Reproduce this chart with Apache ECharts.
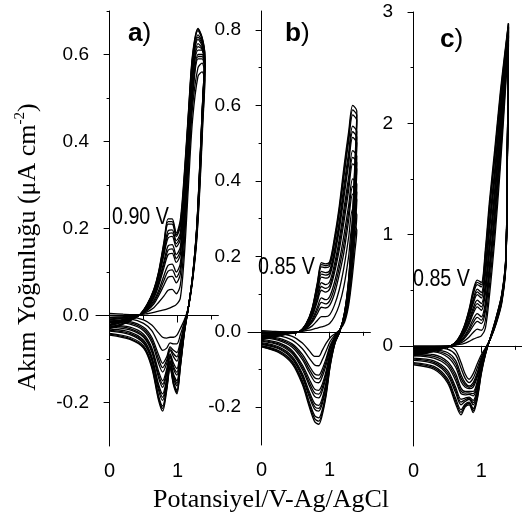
<!DOCTYPE html>
<html><head><meta charset="utf-8">
<script src="https://cdn.jsdelivr.net/npm/echarts@6/dist/echarts.min.js"></script>
<style>html,body{margin:0;padding:0;background:#fff}#c{width:522px;height:521px}</style>
</head><body><div id="c"></div>
<script>
// ---------- Panel a ----------
const aPotFwd = [0, 0.2, 0.35, 0.45, 0.55, 0.65, 0.72, 0.8, 0.86, 0.92, 0.98, 1.04, 1.1, 1.16, 1.22, 1.3, 1.36, 1.4];
const aPotRev = [1.37, 1.33, 1.28, 1.22, 1.16, 1.1, 1.04, 0.99, 0.94, 0.89, 0.84, 0.78, 0.72, 0.62, 0.5, 0.3, 0];
const aFwd = [
 [0.005,0.003,0.002,0.002,0.004,0.007,0.01,0.013,0.016,0.02,0.025,0.04,0.14,0.3,0.45,0.55,0.56,0.54],
 [0.0,0.0,0.0,0.002,0.008,0.018,0.03,0.045,0.058,0.06,0.05,0.07,0.17,0.33,0.48,0.57,0.58,0.55],
 [-0.005,-0.003,-0.001,0.002,0.011,0.026,0.045,0.07,0.088,0.09,0.075,0.095,0.2,0.36,0.5,0.59,0.59,0.56],
 [-0.008,-0.005,-0.002,0.002,0.013,0.03,0.051,0.081,0.102,0.105,0.088,0.108,0.21,0.37,0.51,0.595,0.595,0.565],
 [-0.01,-0.006,-0.002,0.002,0.014,0.034,0.057,0.092,0.115,0.118,0.1,0.12,0.22,0.38,0.52,0.6,0.6,0.57],
 [-0.013,-0.009,-0.003,0.002,0.016,0.04,0.068,0.11,0.14,0.143,0.122,0.14,0.24,0.4,0.54,0.61,0.61,0.575],
 [-0.015,-0.01,-0.0035,0.002,0.017,0.043,0.073,0.118,0.15,0.153,0.131,0.149,0.25,0.41,0.548,0.618,0.612,0.578],
 [-0.016,-0.011,-0.004,0.002,0.018,0.045,0.077,0.125,0.16,0.163,0.14,0.158,0.26,0.42,0.555,0.625,0.615,0.58],
 [-0.02,-0.013,-0.005,0.002,0.02,0.05,0.085,0.14,0.178,0.182,0.158,0.175,0.28,0.435,0.57,0.635,0.62,0.585],
 [-0.021,-0.014,-0.0055,0.002,0.021,0.052,0.088,0.146,0.187,0.19,0.165,0.183,0.29,0.443,0.575,0.64,0.625,0.588],
 [-0.023,-0.015,-0.006,0.002,0.022,0.054,0.091,0.152,0.195,0.197,0.172,0.19,0.3,0.45,0.58,0.645,0.63,0.59],
 [-0.027,-0.018,-0.007,0.002,0.024,0.057,0.096,0.162,0.21,0.21,0.182,0.205,0.315,0.46,0.59,0.655,0.635,0.595],
 [-0.028,-0.019,-0.0075,0.0025,0.0245,0.0585,0.098,0.166,0.216,0.216,0.186,0.212,0.322,0.465,0.595,0.658,0.638,0.598],
 [-0.03,-0.02,-0.008,0.003,0.025,0.06,0.1,0.17,0.222,0.222,0.19,0.22,0.33,0.47,0.6,0.66,0.64,0.6]
];
const aRev = [
 [0.44,0.3,0.17,0.08,0.02,-0.01,-0.03,-0.045,-0.05,-0.05,-0.052,-0.05,-0.04,-0.022,-0.01,-0.003,0.0],
 [0.45,0.31,0.175,0.082,0.02,-0.015,-0.045,-0.065,-0.065,-0.063,-0.075,-0.08,-0.065,-0.035,-0.018,-0.008,-0.005],
 [0.46,0.32,0.18,0.084,0.02,-0.02,-0.06,-0.085,-0.08,-0.072,-0.095,-0.11,-0.09,-0.05,-0.027,-0.014,-0.01],
 [0.465,0.325,0.183,0.0845,0.02,-0.022,-0.066,-0.095,-0.088,-0.076,-0.103,-0.12,-0.1,-0.056,-0.031,-0.017,-0.013],
 [0.47,0.33,0.185,0.085,0.02,-0.024,-0.072,-0.105,-0.095,-0.08,-0.11,-0.13,-0.11,-0.062,-0.035,-0.02,-0.016],
 [0.48,0.335,0.188,0.086,0.02,-0.028,-0.083,-0.122,-0.11,-0.088,-0.123,-0.15,-0.128,-0.074,-0.043,-0.027,-0.021],
 [0.483,0.338,0.189,0.0865,0.02,-0.03,-0.088,-0.13,-0.117,-0.092,-0.129,-0.158,-0.136,-0.079,-0.047,-0.03,-0.024],
 [0.485,0.34,0.19,0.087,0.02,-0.031,-0.093,-0.137,-0.123,-0.096,-0.135,-0.165,-0.143,-0.084,-0.05,-0.033,-0.026],
 [0.49,0.345,0.193,0.088,0.02,-0.034,-0.102,-0.15,-0.135,-0.103,-0.146,-0.18,-0.158,-0.094,-0.057,-0.038,-0.031],
 [0.492,0.348,0.194,0.0885,0.02,-0.035,-0.106,-0.156,-0.14,-0.106,-0.151,-0.188,-0.165,-0.099,-0.061,-0.041,-0.034],
 [0.493,0.35,0.195,0.089,0.02,-0.036,-0.109,-0.162,-0.145,-0.109,-0.156,-0.195,-0.172,-0.103,-0.064,-0.044,-0.036],
 [0.497,0.355,0.198,0.09,0.02,-0.038,-0.115,-0.172,-0.153,-0.115,-0.164,-0.208,-0.184,-0.112,-0.07,-0.05,-0.041],
 [0.499,0.358,0.199,0.09,0.02,-0.039,-0.118,-0.176,-0.157,-0.118,-0.168,-0.214,-0.19,-0.116,-0.073,-0.053,-0.043],
 [0.5,0.36,0.2,0.09,0.02,-0.04,-0.12,-0.18,-0.16,-0.12,-0.172,-0.22,-0.195,-0.12,-0.075,-0.055,-0.045]
];
// ---------- Panel b ----------
const bPotFwd = [0, 0.2, 0.4, 0.55, 0.65, 0.74, 0.82, 0.88, 0.94, 1.0, 1.07, 1.14, 1.21, 1.28, 1.34, 1.4];
const bPotRev = [1.37, 1.33, 1.28, 1.22, 1.15, 1.08, 1.01, 0.95, 0.89, 0.84, 0.78, 0.7, 0.6, 0.45, 0.25, 0];
const bFwd = [
 [0.003,0.001,0.0,0.0,0.003,0.006,0.01,0.013,0.016,0.022,0.04,0.07,0.12,0.2,0.285,0.27],
 [0.0,-0.001,-0.001,0.0,0.006,0.015,0.03,0.04,0.04,0.045,0.07,0.11,0.17,0.25,0.325,0.31],
 [-0.003,-0.003,-0.002,0.0,0.008,0.024,0.048,0.065,0.063,0.07,0.1,0.15,0.21,0.295,0.365,0.35],
 [-0.005,-0.004,-0.0025,0.0,0.009,0.028,0.057,0.078,0.074,0.082,0.115,0.168,0.232,0.315,0.385,0.37],
 [-0.006,-0.005,-0.003,0.0,0.01,0.032,0.065,0.09,0.085,0.093,0.13,0.185,0.255,0.335,0.405,0.39],
 [-0.009,-0.007,-0.003,0.0,0.012,0.039,0.08,0.11,0.105,0.113,0.155,0.215,0.29,0.375,0.445,0.43],
 [-0.01,-0.0075,-0.0035,0.0,0.013,0.042,0.087,0.12,0.115,0.122,0.166,0.229,0.308,0.392,0.462,0.448],
 [-0.011,-0.008,-0.004,0.0,0.014,0.045,0.093,0.13,0.125,0.132,0.178,0.243,0.325,0.41,0.48,0.465],
 [-0.013,-0.009,-0.004,0.0,0.016,0.05,0.105,0.145,0.142,0.148,0.198,0.268,0.355,0.445,0.515,0.5],
 [-0.014,-0.0095,-0.004,0.0,0.0165,0.052,0.11,0.153,0.15,0.155,0.207,0.279,0.37,0.46,0.53,0.515],
 [-0.015,-0.01,-0.004,0.0,0.017,0.054,0.115,0.16,0.157,0.162,0.215,0.29,0.385,0.475,0.545,0.53],
 [-0.018,-0.012,-0.005,0.0,0.019,0.057,0.123,0.172,0.17,0.174,0.232,0.312,0.41,0.505,0.575,0.56],
 [-0.019,-0.0125,-0.005,0.0,0.0195,0.0585,0.127,0.178,0.175,0.18,0.24,0.321,0.422,0.518,0.588,0.573],
 [-0.02,-0.013,-0.005,0.0,0.02,0.06,0.13,0.183,0.18,0.185,0.248,0.33,0.435,0.53,0.6,0.585]
];
const bRev = [
 [0.21,0.14,0.07,0.025,0.005,-0.005,-0.015,-0.03,-0.05,-0.065,-0.065,-0.05,-0.03,-0.012,-0.004,0.0],
 [0.24,0.16,0.08,0.03,0.005,-0.008,-0.025,-0.05,-0.075,-0.09,-0.088,-0.07,-0.045,-0.022,-0.01,-0.005],
 [0.27,0.175,0.09,0.034,0.005,-0.012,-0.035,-0.07,-0.1,-0.115,-0.112,-0.09,-0.06,-0.032,-0.017,-0.01],
 [0.285,0.183,0.095,0.036,0.005,-0.0135,-0.04,-0.078,-0.11,-0.125,-0.122,-0.099,-0.067,-0.036,-0.02,-0.0125],
 [0.3,0.19,0.1,0.038,0.005,-0.015,-0.044,-0.087,-0.12,-0.135,-0.132,-0.108,-0.074,-0.041,-0.023,-0.015],
 [0.33,0.205,0.108,0.041,0.004,-0.018,-0.053,-0.103,-0.14,-0.155,-0.152,-0.125,-0.088,-0.05,-0.029,-0.02],
 [0.343,0.213,0.112,0.0425,0.0035,-0.0195,-0.058,-0.11,-0.149,-0.165,-0.162,-0.134,-0.094,-0.054,-0.032,-0.0225],
 [0.355,0.22,0.115,0.044,0.003,-0.021,-0.062,-0.118,-0.158,-0.175,-0.171,-0.142,-0.1,-0.058,-0.035,-0.025],
 [0.38,0.235,0.122,0.046,0.002,-0.024,-0.07,-0.132,-0.177,-0.195,-0.19,-0.158,-0.111,-0.065,-0.04,-0.029],
 [0.39,0.243,0.125,0.047,0.0015,-0.025,-0.074,-0.139,-0.185,-0.203,-0.198,-0.165,-0.116,-0.069,-0.043,-0.031],
 [0.4,0.25,0.128,0.048,0.001,-0.026,-0.077,-0.145,-0.192,-0.21,-0.205,-0.172,-0.121,-0.072,-0.045,-0.033],
 [0.42,0.265,0.134,0.05,0.0,-0.028,-0.084,-0.157,-0.208,-0.228,-0.222,-0.185,-0.13,-0.078,-0.05,-0.037],
 [0.43,0.273,0.137,0.051,0.0,-0.029,-0.087,-0.163,-0.215,-0.237,-0.23,-0.192,-0.135,-0.082,-0.053,-0.039],
 [0.44,0.28,0.14,0.052,0.0,-0.03,-0.09,-0.168,-0.222,-0.245,-0.238,-0.198,-0.14,-0.085,-0.055,-0.04]
];
// ---------- Panel c ----------
const cPotFwd = [0, 0.2, 0.4, 0.55, 0.65, 0.74, 0.82, 0.88, 0.94, 1.0, 1.06, 1.12, 1.2, 1.28, 1.34, 1.4];
const cPotRev = [1.38, 1.36, 1.3, 1.22, 1.14, 1.06, 1.0, 0.94, 0.88, 0.82, 0.76, 0.7, 0.62, 0.5, 0.3, 0];
const cFwd = [
 [0.0,0.0,0.0,0.0,0.01,0.02,0.04,0.06,0.075,0.09,0.16,0.45,0.97,1.6,2.15,2.72],
 [-0.01,-0.008,-0.004,0.0,0.015,0.04,0.08,0.12,0.15,0.14,0.23,0.54,1.06,1.68,2.21,2.75],
 [-0.02,-0.016,-0.008,0.0,0.02,0.06,0.12,0.18,0.22,0.2,0.31,0.63,1.15,1.76,2.27,2.78],
 [-0.025,-0.02,-0.01,0.0,0.023,0.07,0.14,0.21,0.255,0.23,0.35,0.68,1.2,1.8,2.3,2.79],
 [-0.03,-0.024,-0.012,0.0,0.026,0.08,0.16,0.24,0.29,0.26,0.39,0.73,1.24,1.84,2.33,2.8],
 [-0.04,-0.031,-0.016,0.0,0.032,0.1,0.195,0.29,0.35,0.32,0.47,0.83,1.33,1.92,2.38,2.82],
 [-0.045,-0.035,-0.0175,0.0,0.0345,0.108,0.212,0.315,0.38,0.35,0.515,0.88,1.375,1.96,2.405,2.83],
 [-0.05,-0.038,-0.019,0.0,0.037,0.115,0.23,0.34,0.41,0.38,0.56,0.93,1.42,2.0,2.43,2.84],
 [-0.06,-0.045,-0.022,0.0,0.042,0.13,0.26,0.38,0.46,0.43,0.64,1.03,1.51,2.07,2.47,2.86],
 [-0.065,-0.0485,-0.0235,0.0,0.0445,0.138,0.275,0.4,0.485,0.455,0.68,1.075,1.555,2.105,2.49,2.865],
 [-0.07,-0.052,-0.025,0.0,0.047,0.145,0.29,0.42,0.51,0.48,0.72,1.12,1.6,2.14,2.51,2.87],
 [-0.08,-0.058,-0.028,0.0,0.051,0.155,0.31,0.46,0.55,0.53,0.8,1.21,1.69,2.21,2.55,2.89],
 [-0.085,-0.0615,-0.029,0.0,0.053,0.16,0.32,0.48,0.57,0.55,0.835,1.255,1.735,2.245,2.575,2.895],
 [-0.09,-0.065,-0.03,0.0,0.055,0.165,0.33,0.5,0.59,0.57,0.87,1.3,1.78,2.28,2.6,2.9]
];
const cRev = [
 [1.4,0.7,0.38,0.2,0.07,-0.02,-0.08,-0.16,-0.25,-0.3,-0.25,-0.15,-0.04,-0.005,0.0,0.0],
 [1.41,0.71,0.39,0.207,0.072,-0.027,-0.1,-0.2,-0.29,-0.33,-0.29,-0.2,-0.08,-0.03,-0.015,-0.015],
 [1.42,0.72,0.4,0.214,0.074,-0.034,-0.12,-0.24,-0.33,-0.36,-0.33,-0.26,-0.13,-0.06,-0.035,-0.03],
 [1.425,0.725,0.405,0.217,0.075,-0.0375,-0.13,-0.26,-0.35,-0.372,-0.35,-0.29,-0.16,-0.08,-0.045,-0.04],
 [1.43,0.73,0.41,0.22,0.076,-0.041,-0.14,-0.28,-0.37,-0.385,-0.37,-0.32,-0.19,-0.1,-0.055,-0.05],
 [1.44,0.74,0.42,0.226,0.078,-0.048,-0.16,-0.32,-0.41,-0.41,-0.41,-0.38,-0.25,-0.14,-0.08,-0.07],
 [1.445,0.742,0.422,0.229,0.079,-0.0515,-0.168,-0.34,-0.43,-0.422,-0.425,-0.405,-0.28,-0.16,-0.095,-0.08],
 [1.45,0.745,0.425,0.232,0.08,-0.055,-0.175,-0.36,-0.45,-0.435,-0.44,-0.43,-0.31,-0.18,-0.11,-0.09],
 [1.46,0.75,0.435,0.238,0.082,-0.061,-0.19,-0.39,-0.49,-0.46,-0.47,-0.48,-0.37,-0.22,-0.135,-0.11],
 [1.465,0.755,0.44,0.2415,0.083,-0.064,-0.2,-0.405,-0.51,-0.47,-0.485,-0.505,-0.395,-0.24,-0.148,-0.12],
 [1.47,0.76,0.445,0.245,0.084,-0.067,-0.21,-0.42,-0.53,-0.48,-0.5,-0.53,-0.42,-0.26,-0.16,-0.13],
 [1.48,0.77,0.452,0.252,0.086,-0.073,-0.23,-0.45,-0.565,-0.505,-0.525,-0.575,-0.47,-0.295,-0.185,-0.15],
 [1.49,0.775,0.456,0.256,0.088,-0.0765,-0.24,-0.465,-0.583,-0.518,-0.538,-0.598,-0.495,-0.313,-0.198,-0.16],
 [1.5,0.78,0.46,0.26,0.09,-0.08,-0.25,-0.48,-0.6,-0.53,-0.55,-0.62,-0.52,-0.33,-0.21,-0.17]
];
// ---------- ticks ----------
const xMajorTicks = [0, 1];
const xMinorTicks = [0.5, 1.5];
const aYMajor = [-0.2, 0, 0.2, 0.4, 0.6];
const aYMinor = [-0.1, 0.1, 0.3, 0.5, 0.7];
const bYMajor = [-0.2, 0, 0.2, 0.4, 0.6, 0.8];
const bYMinor = [-0.1, 0.1, 0.3, 0.5, 0.7];
const cYMajor = [0, 1, 2, 3];
const cYMinor = [-0.5, 0.5, 1.5, 2.5];
const yRanges = [[-0.3, 0.7], [-0.3, 0.85], [-0.9, 3]];

const SANS = "'Liberation Sans',Arial,sans-serif";
const SERIF = "'Liberation Serif','Times New Roman',serif";

const grids = [
  {left: 96, top: 11, width: 122.4, height: 435},
  {left: 248, top: 11, width: 122.4, height: 434},
  {left: 400, top: 12, width: 122.4, height: 434}
];
const xAxes = [], yAxes = [];
const yMaj = [aYMajor, bYMajor, cYMajor], yMin = [aYMinor, bYMinor, cYMinor];
for (let g = 0; g < 3; g++) {
  xAxes.push({type:'value', gridIndex:g, min:-0.2, max:1.6, position:'bottom',
    axisLine:{show:true, lineStyle:{color:'#000', width:1}},
    axisTick:{show:true, customValues:xMajorTicks, length:7, lineStyle:{color:'#000'}},
    axisLabel:{show:true, customValues:xMajorTicks, margin:15, color:'#000', fontSize:20, fontFamily:SANS, formatter:v=>String(v)},
    splitLine:{show:false}});
  xAxes.push({type:'value', gridIndex:g, min:-0.2, max:1.6, position:'bottom',
    axisLine:{show:false}, axisLabel:{show:false},
    axisTick:{show:true, customValues:xMinorTicks, length:4, lineStyle:{color:'#000'}},
    splitLine:{show:false}});
  yAxes.push({type:'value', gridIndex:g, min:yRanges[g][0], max:yRanges[g][1], position:'left',
    axisLine:{show:true, lineStyle:{color:'#000', width:1}},
    axisTick:{show:true, customValues:yMaj[g], length:6, lineStyle:{color:'#000'}},
    axisLabel:{show:true, customValues:yMaj[g], margin:7, color:'#000', fontSize:19, fontFamily:SANS,
      formatter: v => g === 2 ? String(Math.round(v)) : (Math.round(v*10)/10).toFixed(1)},
    splitLine:{show:false}});
  yAxes.push({type:'value', gridIndex:g, min:yRanges[g][0], max:yRanges[g][1], position:'left',
    axisLine:{show:false}, axisLabel:{show:false},
    axisTick:{show:true, customValues:yMin[g], length:3, lineStyle:{color:'#000'}},
    splitLine:{show:false}});
}

function loop(pf, f, pr, r) {
  const pts = [];
  pf.forEach((e, i) => pts.push([e, f[i]]));
  pr.forEach((e, i) => pts.push([e, r[i]]));
  return pts;
}
const series = [];
const panels = [[aPotFwd, aFwd, aPotRev, aRev], [bPotFwd, bFwd, bPotRev, bRev], [cPotFwd, cFwd, cPotRev, cRev]];
panels.forEach((p, g) => {
  for (let k = 0; k < p[1].length; k++) {
    series.push({type:'line', xAxisIndex:g*2, yAxisIndex:g*2, data:loop(p[0], p[1][k], p[2], p[3][k]),
      showSymbol:false, smooth:0.3, lineStyle:{color:'#000', width:1.3}, silent:true, clip:true});
  }
});

const lbl = (t) => ({text:'{b|' + t + '}{r|)}', align:'left', verticalAlign:'middle',
  rich:{b:{fontFamily:SANS, fontWeight:'bold', fontSize:25, fill:'#000'}, r:{fontFamily:SANS, fontSize:25, fill:'#000'}}});
const graphic = [
  {type:'text', x:28, y:247, rotation:Math.PI/2, style:{
    text:'{n|Akım Yoğunluğu (μA cm}{s|-2}{n|)}', align:'center', verticalAlign:'middle',
    rich:{n:{fontFamily:SERIF, fontSize:26, lineHeight:30, fill:'#000'}, s:{fontFamily:SERIF, fontSize:15, lineHeight:30, verticalAlign:'top', fill:'#000'}}}},
  {type:'text', x:271, y:500, style:{text:'Potansiyel/V-Ag/AgCl', fontFamily:SERIF, fontSize:26, fill:'#000', align:'center', verticalAlign:'middle'}},
  {type:'text', x:128, y:34, scaleX:1.05, style:lbl('a')},
  {type:'text', x:285, y:34, scaleX:1.05, style:lbl('b')},
  {type:'text', x:440, y:40, scaleX:1.05, style:lbl('c')},
  {type:'text', x:112, y:217, scaleX:0.82, style:{text:'0.90 V', fontFamily:SANS, fontSize:24, fill:'#000', align:'left', verticalAlign:'middle'}},
  {type:'text', x:258, y:267, scaleX:0.82, style:{text:'0.85 V', fontFamily:SANS, fontSize:24, fill:'#000', align:'left', verticalAlign:'middle'}},
  {type:'text', x:413, y:279, scaleX:0.82, style:{text:'0.85 V', fontFamily:SANS, fontSize:24, fill:'#000', align:'left', verticalAlign:'middle'}}
];

const chart = echarts.init(document.getElementById('c'), null, {renderer:'canvas'});
chart.setOption({animation:false, backgroundColor:'#fff', grid:grids, xAxis:xAxes, yAxis:yAxes, series:series, graphic:graphic});
</script></body></html>
